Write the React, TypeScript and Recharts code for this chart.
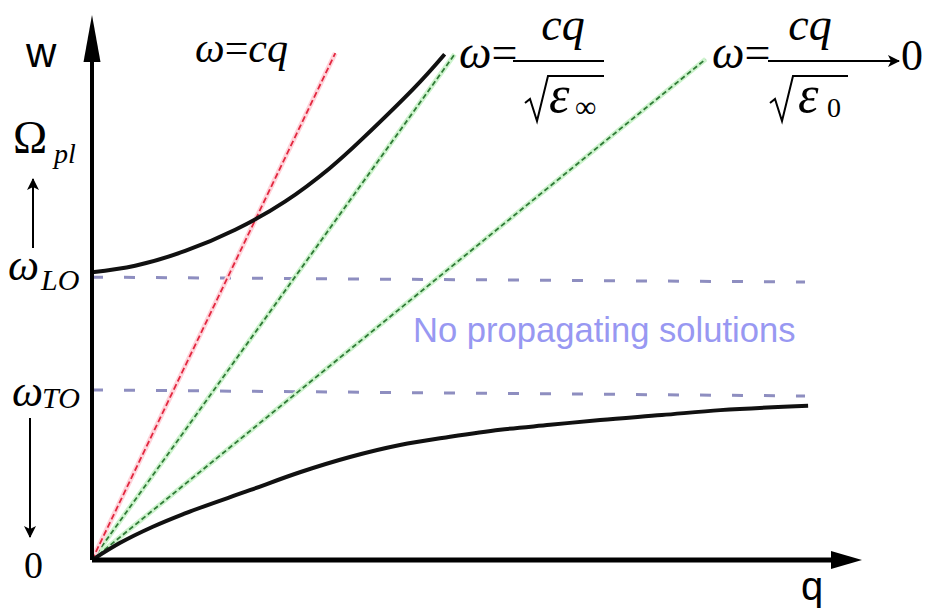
import React from "react";
import {
  ComposedChart,
  Line,
  XAxis,
  YAxis,
  ReferenceLine,
  ReferenceDot,
  Customized,
} from "recharts";

// Wave vector q (arbitrary units, 0..100) and frequency ω (0..100)
const upperBranchQ = [0, 5.6, 12.1, 18.6, 25.1, 30.8, 35.2, 41.7, 45.8];
const upperBranchW = [52.8, 54.0, 56.7, 60.6, 65.8, 71.8, 77.4, 86.4, 92.8];

const lowerBranchQ = [0, 3.6, 7.9, 12.0, 20.5, 27.0, 33.5, 40.0, 46.5, 53.0, 59.5, 66.0, 74.0, 81.6, 93.0];
const lowerBranchW = [0, 3.1, 6.1, 8.5, 12.8, 16.1, 18.9, 21.1, 22.6, 23.9, 24.8, 25.7, 26.6, 27.5, 28.3];

// Light lines ω = cq, ω = cq/√ε∞, ω = cq/√ε0
const vacuumLightQ = [0, 31.6];
const vacuumLightW = [0, 93.0];
const highFreqLightQ = [0, 47.1];
const highFreqLightW = [0, 92.8];
const staticLightQ = [0, 79.7];
const staticLightW = [0, 91.9];

// ω_LO and ω_TO levels
const omegaLOQ = [0, 92.6];
const omegaLOW = [51.9, 51.0];
const omegaTOQ = [0, 92.6];
const omegaTOW = [31.2, 30.1];

const zip = (qs: number[], ws: number[]) => qs.map((q, i) => ({ q, w: ws[i] }));

const upperBranch = zip(upperBranchQ, upperBranchW);
const lowerBranch = zip(lowerBranchQ, lowerBranchW);
const vacuumLight = zip(vacuumLightQ, vacuumLightW);
const highFreqLight = zip(highFreqLightQ, highFreqLightW);
const staticLight = zip(staticLightQ, staticLightW);
const omegaLO = zip(omegaLOQ, omegaLOW);
const omegaTO = zip(omegaTOQ, omegaTOW);

const SERIF = "'Liberation Serif', 'Times New Roman', serif";
const SANS = "'Liberation Sans', Arial, sans-serif";

const UpArrowHead = (props: any) => {
  const { cx, cy } = props;
  return (
    <polygon
      points={`${cx},${cy} ${cx - 8.5},${cy + 47} ${cx + 8.5},${cy + 47}`}
      fill="#000"
    />
  );
};

const RightArrowHead = (props: any) => {
  const { cx, cy } = props;
  return (
    <polygon
      points={`${cx},${cy} ${cx - 31},${cy - 9} ${cx - 31},${cy + 9}`}
      fill="#000"
    />
  );
};

const Annotations = () => (
  <g>
    <defs>
      <marker id="thinHead" markerWidth="12" markerHeight="12" refX="11" refY="6" orient="auto" markerUnits="userSpaceOnUse">
        <path d="M0,0 L12,6 L0,12 L3,6 z" fill="#000" />
      </marker>
    </defs>

    {/* axis names */}
    <text x={26} y={67} fontFamily={SANS} fontSize={42} fill="#000">w</text>
    <text x={801} y={600} fontFamily={SANS} fontSize={40} fill="#000">q</text>

    {/* Ω_pl with upward arrow */}
    <text x={13} y={153} fontFamily={SERIF} fontSize={46} fill="#000">Ω</text>
    <text x={54} y={163} fontFamily={SERIF} fontStyle="italic" fontSize={28} fill="#000">pl</text>
    <line x1={33} y1={248} x2={33} y2={179} stroke="#000" strokeWidth={2} markerEnd="url(#thinHead)" />

    {/* ω_LO */}
    <text x={8} y={280} fontFamily={SERIF} fontStyle="italic" fontSize={44} fill="#000">ω</text>
    <text x={41} y={290} fontFamily={SERIF} fontStyle="italic" fontSize={30} fill="#000">LO</text>

    {/* ω_TO with downward arrow */}
    <text x={12} y={406} fontFamily={SERIF} fontStyle="italic" fontSize={44} fill="#000">ω</text>
    <text x={42} y={408} fontFamily={SERIF} fontStyle="italic" fontSize={30} fill="#000">TO</text>
    <line x1={30} y1={418} x2={30} y2={537} stroke="#000" strokeWidth={2} markerEnd="url(#thinHead)" />

    <text x={24} y={578} fontFamily={SERIF} fontSize={38} fill="#000">0</text>

    {/* ω = cq */}
    <text x={195} y={62} fontFamily={SERIF} fontSize={42} fill="#000">
      <tspan fontStyle="italic">ω</tspan>
      <tspan>=</tspan>
      <tspan fontStyle="italic">cq</tspan>
    </text>

    {/* ω = cq / √ε∞ */}
    <text x={459} y={68} fontFamily={SERIF} fontSize={46} fill="#000">
      <tspan fontStyle="italic">ω</tspan>
      <tspan>=</tspan>
    </text>
    <text x={563} y={40} textAnchor="middle" fontFamily={SERIF} fontStyle="italic" fontSize={46} fill="#000">cq</text>
    <line x1={513} y1={61} x2={604} y2={61} stroke="#000" strokeWidth={2} />
    <path d="M525,103 L530,99 L537,121 L548,76 L604,76" fill="none" stroke="#000" strokeWidth={2} />
    <text x={549} y={112} fontFamily={SERIF} fontStyle="italic" fontSize={52} fill="#000">ε</text>
    <text x={575} y={117} fontFamily={SERIF} fontSize={30} fill="#000">∞</text>

    {/* ω = cq / √ε0 → 0 */}
    <text x={712} y={68} fontFamily={SERIF} fontSize={46} fill="#000">
      <tspan fontStyle="italic">ω</tspan>
      <tspan>=</tspan>
    </text>
    <text x={810} y={40} textAnchor="middle" fontFamily={SERIF} fontStyle="italic" fontSize={46} fill="#000">cq</text>
    <line x1={768} y1={61} x2={848} y2={61} stroke="#000" strokeWidth={2} />
    <path d="M770,103 L775,99 L782,121 L793,76 L848,76" fill="none" stroke="#000" strokeWidth={2} />
    <text x={798} y={112} fontFamily={SERIF} fontStyle="italic" fontSize={52} fill="#000">ε</text>
    <text x={827} y={117} fontFamily={SERIF} fontSize={28} fill="#000">0</text>
    <line x1={848} y1={61} x2={899} y2={61} stroke="#000" strokeWidth={2} markerEnd="url(#thinHead)" />
    <text x={901} y={70} fontFamily={SERIF} fontSize={44} fill="#000">0</text>

    {/* forbidden band */}
    <text x={413} y={342} fontFamily={SANS} fontSize={34.6} fill="#9898f2">No propagating solutions</text>
  </g>
);

export default function App() {
  return (
    <div style={{ position: "absolute", left: 0, top: 0, width: 937, height: 614, background: "#fff" }}>
      <ComposedChart
        width={937}
        height={614}
        margin={{ top: 15, right: 75, bottom: 54, left: 92 }}
      >
        <XAxis type="number" dataKey="q" domain={[0, 100]} hide allowDataOverflow />
        <YAxis type="number" dataKey="w" domain={[0, 100]} hide allowDataOverflow />

        {/* ω_LO / ω_TO levels */}
        <Line data={omegaLO} dataKey="w" type="linear" stroke="#8e8ec0" strokeWidth={3} strokeDasharray="11 21" dot={false} isAnimationActive={false} />
        <Line data={omegaTO} dataKey="w" type="linear" stroke="#8e8ec0" strokeWidth={3} strokeDasharray="11 21" dot={false} isAnimationActive={false} />

        {/* light lines: soft halo under a fine dashed stroke */}
        <Line data={staticLight} dataKey="w" type="linear" stroke="#cdf3cd" strokeWidth={5} dot={false} isAnimationActive={false} />
        <Line data={staticLight} dataKey="w" type="linear" stroke="#2f7a36" strokeWidth={1.8} strokeDasharray="5 3" dot={false} isAnimationActive={false} />
        <Line data={highFreqLight} dataKey="w" type="linear" stroke="#cdf3cd" strokeWidth={5} dot={false} isAnimationActive={false} />
        <Line data={highFreqLight} dataKey="w" type="linear" stroke="#2f7a36" strokeWidth={1.8} strokeDasharray="5 3" dot={false} isAnimationActive={false} />
        <Line data={vacuumLight} dataKey="w" type="linear" stroke="#ffd3da" strokeWidth={5} dot={false} isAnimationActive={false} />
        <Line data={vacuumLight} dataKey="w" type="linear" stroke="#e2273f" strokeWidth={1.8} strokeDasharray="6 3" dot={false} isAnimationActive={false} />

        {/* polariton branches */}
        <Line data={upperBranch} dataKey="w" type="natural" stroke="#111" strokeWidth={4} dot={false} isAnimationActive={false} />
        <Line data={lowerBranch} dataKey="w" type="monotone" stroke="#111" strokeWidth={4} dot={false} isAnimationActive={false} />

        {/* axes with arrowheads */}
        <ReferenceLine segment={[{ x: 0, y: 0 }, { x: 0, y: 97 }]} stroke="#000" strokeWidth={4} ifOverflow="visible" />
        <ReferenceLine segment={[{ x: 0, y: 0 }, { x: 98, y: 0 }]} stroke="#000" strokeWidth={5} ifOverflow="visible" />
        <ReferenceDot x={0} y={100} r={0} shape={UpArrowHead} ifOverflow="visible" />
        <ReferenceDot x={100} y={0} r={0} shape={RightArrowHead} ifOverflow="visible" />

        <Customized component={Annotations} />
      </ComposedChart>
    </div>
  );
}
